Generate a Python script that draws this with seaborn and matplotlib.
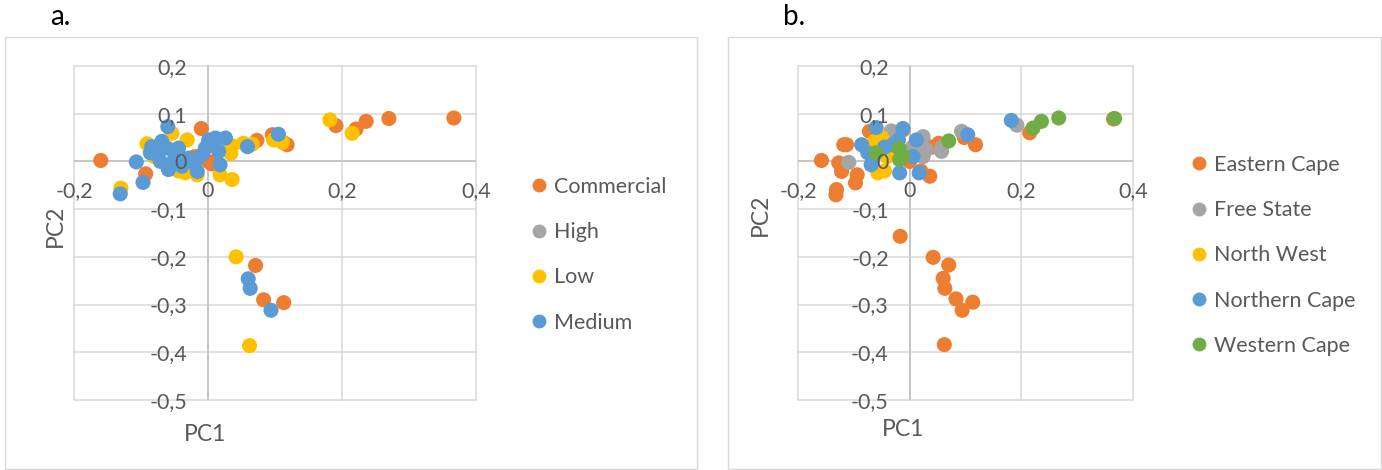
import matplotlib
matplotlib.use("Agg")
import matplotlib.pyplot as plt
import seaborn as sns
import pandas as pd
from matplotlib.patches import Rectangle

# ---------------- data: panel a (by category) ----------------
A_CATEGORIES = ["Commercial", "High", "Low", "Medium"]
A_COLORS = ["#ED7D31", "#A5A5A5", "#FFC000", "#5B9BD5"]

COMMERCIAL_PC1 = [0.367, 0.270, 0.236, 0.221, 0.191, 0.118, 0.096, 0.073, 0.071,
                  0.083, 0.113, -0.160, -0.093, -0.010, 0.001, 0.005, -0.020, 0.112]
COMMERCIAL_PC2 = [0.091, 0.090, 0.084, 0.068, 0.075, 0.035, 0.056, 0.044, -0.218,
                  -0.290, -0.296, 0.002, -0.026, 0.069, 0.000, -0.005, 0.010, 0.040]

HIGH_PC1 = []
HIGH_PC2 = []

LOW_PC1 = [0.182, 0.215, 0.111, 0.098, 0.066, 0.053, 0.042, 0.062, -0.130, -0.091,
           -0.054, -0.031, 0.036, 0.034, 0.018, 0.036, -0.016, -0.034, -0.044,
           -0.060, 0.020, -0.080]
LOW_PC2 = [0.087, 0.059, 0.040, 0.045, 0.036, 0.038, -0.200, -0.386, -0.056, 0.037,
           0.059, 0.045, 0.033, 0.017, -0.028, -0.038, -0.028, -0.024, -0.020,
           -0.010, 0.030, 0.010]

MEDIUM_PC1 = [0.105, 0.059, 0.060, 0.063, 0.094, -0.107, -0.097, -0.131, -0.060,
              -0.084, -0.086, -0.069, -0.061, -0.044, -0.071, -0.059, -0.039, -0.016,
              -0.029, -0.009, 0.001, 0.011, 0.026, 0.016, 0.018, -0.004, -0.075,
              -0.050, -0.020, 0.005]
MEDIUM_PC2 = [0.057, 0.031, -0.246, -0.266, -0.312, -0.001, -0.044, -0.068, 0.073,
              0.031, 0.018, 0.042, 0.028, 0.028, 0.000, -0.017, -0.010, -0.021,
              0.007, 0.014, 0.045, 0.049, 0.049, 0.021, -0.007, 0.028, 0.012,
              0.005, -0.005, 0.035]

# ---------------- data: panel b (by province) ----------------
B_CATEGORIES = ["Eastern Cape", "Free State", "North West", "Northern Cape", "Western Cape"]
B_COLORS = ["#ED7D31", "#A5A5A5", "#FFC000", "#5B9BD5", "#70AD47"]

EASTERN_CAPE_PC1 = [-0.017, 0.042, 0.070, 0.060, 0.063, 0.083, 0.113, 0.094, 0.062,
                    -0.158, -0.118, -0.127, -0.122, -0.094, -0.097, -0.131, -0.132,
                    0.365, 0.215, 0.118, 0.098, 0.052, 0.036, -0.012, -0.072, -0.040,
                    0.020, -0.070, 0.000, 0.040, -0.113, 0.025]
EASTERN_CAPE_PC2 = [-0.157, -0.201, -0.217, -0.245, -0.266, -0.288, -0.295, -0.312, -0.384,
                    0.002, 0.035, -0.003, -0.021, -0.028, -0.045, -0.059, -0.070,
                    0.089, 0.060, 0.035, 0.050, 0.038, -0.031, 0.066, 0.063, 0.040,
                    -0.020, 0.025, 0.000, 0.030, 0.035, 0.040]

FREE_STATE_PC1 = [0.192, 0.093, 0.057, 0.058, -0.109, -0.033, 0.024, 0.030, 0.024, 0.005]
FREE_STATE_PC2 = [0.076, 0.063, 0.021, 0.030, -0.002, 0.064, 0.052, 0.025, 0.010, 0.030]

NORTH_WEST_PC1 = [-0.063, -0.057, -0.045, -0.040, -0.035, -0.050]
NORTH_WEST_PC2 = [0.042, -0.024, -0.020, 0.010, 0.030, 0.050]

NORTHERN_CAPE_PC1 = [0.182, 0.104, 0.017, -0.060, -0.012, -0.086, -0.075, -0.069,
                     -0.030, 0.012, 0.006, -0.018, -0.065, -0.045, -0.020]
NORTHERN_CAPE_PC2 = [0.086, 0.056, -0.024, 0.071, 0.069, 0.035, 0.018, -0.007,
                     0.035, 0.045, 0.010, -0.024, 0.010, 0.030, 0.045]

WESTERN_CAPE_PC1 = [0.367, 0.267, 0.236, 0.221, 0.070, -0.060, -0.019, -0.018, -0.012]
WESTERN_CAPE_PC2 = [0.090, 0.091, 0.084, 0.070, 0.043, 0.018, 0.028, 0.004, 0.012]

# ---------------- axes ticks ----------------
X_TICKS = [-0.2, 0.0, 0.2, 0.4]
X_TICK_LABELS = ["-0,2", "0", "0,2", "0,4"]
Y_TICKS = [-0.5, -0.4, -0.3, -0.2, -0.1, 0.0, 0.1, 0.2]
Y_TICK_LABELS = ["-0,5", "-0,4", "-0,3", "-0,2", "-0,1", "0", "0,1", "0,2"]


def build_frame(groups):
    frames = []
    for name, xs, ys in groups:
        frames.append(pd.DataFrame({"PC1": xs, "PC2": ys, "group": [name] * len(xs)}))
    return pd.concat(frames, ignore_index=True)


df_a = build_frame([
    ("Commercial", COMMERCIAL_PC1, COMMERCIAL_PC2),
    ("High", HIGH_PC1, HIGH_PC2),
    ("Low", LOW_PC1, LOW_PC2),
    ("Medium", MEDIUM_PC1, MEDIUM_PC2),
])
df_b = build_frame([
    ("Eastern Cape", EASTERN_CAPE_PC1, EASTERN_CAPE_PC2),
    ("Free State", FREE_STATE_PC1, FREE_STATE_PC2),
    ("North West", NORTH_WEST_PC1, NORTH_WEST_PC2),
    ("Northern Cape", NORTHERN_CAPE_PC1, NORTHERN_CAPE_PC2),
    ("Western Cape", WESTERN_CAPE_PC1, WESTERN_CAPE_PC2),
])

sns.set_theme(style="white")
plt.rcParams["font.family"] = ["Lato", "DejaVu Sans"]

W, H = 1382, 470
fig = plt.figure(figsize=(W / 100, H / 100), dpi=100)

GRID_C = "#D9D9D9"
AXIS_C = "#BFBFBF"
TEXT_C = "#595959"
FS = 15.5


def style_axes(ax, xlabel_pos, ylabel_pos):
    ax.set_xlim(-0.2, 0.4)
    ax.set_ylim(-0.5, 0.2)
    ax.grid(False)
    for v in X_TICKS:
        ax.axvline(v, color=GRID_C, lw=1.1, zorder=0.5, clip_on=False)
    for v in Y_TICKS:
        ax.axhline(v, color=GRID_C, lw=1.1, zorder=0.5, clip_on=False)
    ax.axvline(0, color=AXIS_C, lw=1.1, zorder=0.6)
    ax.axhline(0, color=AXIS_C, lw=1.1, zorder=0.6)
    ax.spines["left"].set_position(("data", 0))
    ax.spines["bottom"].set_position(("data", 0))
    for s in ax.spines.values():
        s.set_visible(False)
    ax.set_xticks(X_TICKS)
    ax.set_xticklabels(X_TICK_LABELS)
    ax.set_yticks(Y_TICKS)
    ax.set_yticklabels(Y_TICK_LABELS)
    ax.tick_params(axis="x", length=0, pad=14, labelsize=FS, labelcolor=TEXT_C)
    ax.tick_params(axis="y", length=0, pad=15, labelsize=FS, labelcolor=TEXT_C)
    ax.xaxis.set_zorder(5)
    ax.yaxis.set_zorder(5)
    ax.set_xlabel("PC1", fontsize=16.5, color=TEXT_C)
    ax.set_ylabel("PC2", fontsize=16.5, color=TEXT_C)
    ax.xaxis.set_label_coords(*xlabel_pos)
    ax.yaxis.set_label_coords(*ylabel_pos)
    ax.patch.set_alpha(0)


def add_panel(df, cats, colors, ax_px, legend_anchor_px):
    l, t, r, b = ax_px
    ax = fig.add_axes([l / W, 1 - b / H, (r - l) / W, (b - t) / H])
    sns.scatterplot(data=df, x="PC1", y="PC2", hue="group", hue_order=cats,
                    palette=dict(zip(cats, colors)), s=118, linewidth=0,
                    ax=ax, zorder=2, legend="full")
    handles, labels = ax.get_legend_handles_labels()
    for h in handles:
        try:
            h.set_markersize(10)
            h.set_markeredgewidth(0)
        except Exception:
            pass
    ax.legend(handles, labels, loc="upper left", frameon=False,
              bbox_to_anchor=(legend_anchor_px[0] / W, 1 - legend_anchor_px[1] / H),
              bbox_transform=fig.transFigure, borderpad=0, borderaxespad=0,
              handlelength=0.7, handletextpad=0.35, labelspacing=1.17,
              fontsize=FS, labelcolor=TEXT_C)
    return ax


ax_a = add_panel(df_a, A_CATEGORIES, A_COLORS, (74, 66, 476, 400), (531, 177))
style_axes(ax_a, ((205 - 74) / 402, (400 - 424) / 334), ((66 - 74) / 402, (400 - 226) / 334))

ax_b = add_panel(df_b, B_CATEGORIES, B_COLORS, (798, 66, 1133, 400), (1191, 155))
style_axes(ax_b, ((903 - 798) / 335, (400 - 419) / 334), ((771 - 798) / 335, (400 - 215) / 334))

# chart-area borders
for (x0, y0, x1, y1) in [(5, 37, 697, 469), (728, 37, 1381, 469)]:
    fig.add_artist(Rectangle((x0 / W, 1 - y1 / H), (x1 - x0) / W, (y1 - y0) / H,
                             transform=fig.transFigure, fill=False,
                             edgecolor=GRID_C, lw=1.0))

fig.text(50 / W, 1 - 17 / H, "a.", fontsize=20, color="#000000", ha="left", va="center")
fig.text(783 / W, 1 - 17 / H, "b.", fontsize=20, color="#000000", ha="left", va="center")

fig.savefig("out.png", dpi=100)
